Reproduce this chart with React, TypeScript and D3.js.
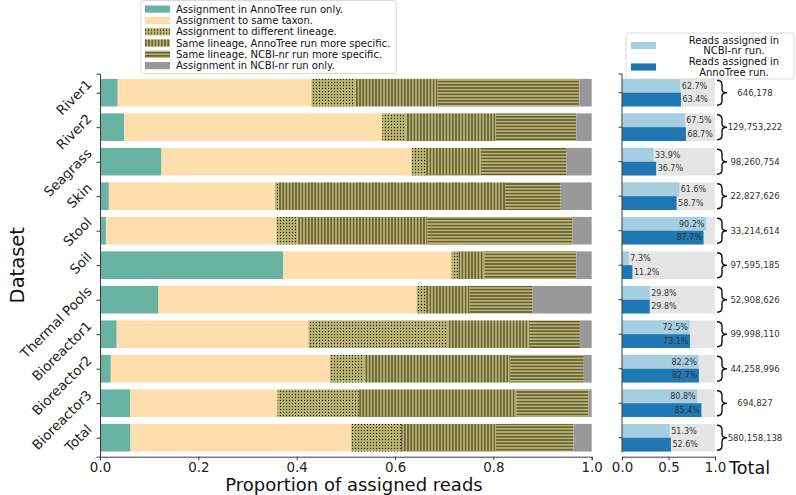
import * as d3 from "d3";
import React, { useEffect, useRef } from "react";

const datasets = ["River1", "River2", "Seagrass", "Skin", "Stool", "Soil", "Thermal Pools", "Bioreactor1", "Bioreactor2", "Bioreactor3", "Total"];

// proportion of reads in each assignment class, one array per class
const annotreeOnly = [0.036, 0.049, 0.125, 0.018, 0.012, 0.373, 0.119, 0.034, 0.022, 0.061, 0.062];
const sameTaxon = [0.394, 0.525, 0.509, 0.338, 0.347, 0.342, 0.525, 0.390, 0.446, 0.300, 0.449];
const differentLineage = [0.089, 0.048, 0.029, 0.007, 0.043, 0.014, 0.019, 0.284, 0.070, 0.166, 0.101];
const annotreeMoreSpecific = [0.167, 0.183, 0.111, 0.461, 0.264, 0.053, 0.088, 0.164, 0.296, 0.320, 0.193];
const ncbiMoreSpecific = [0.289, 0.164, 0.174, 0.113, 0.295, 0.187, 0.129, 0.104, 0.150, 0.146, 0.158];
const ncbiOnly = [0.025, 0.031, 0.052, 0.063, 0.039, 0.031, 0.120, 0.024, 0.016, 0.007, 0.037];

const classLabels = [
  "Assignment in AnnoTree run only.",
  "Assignment to same taxon.",
  "Assignment to different lineage.",
  "Same lineage, AnnoTree run more specific.",
  "Same lineage, NCBI-nr run more specific.",
  "Assignment in NCBI-nr run only.",
];

// percent of reads assigned in each run
const ncbiAssigned = [62.7, 67.5, 33.9, 61.6, 90.2, 7.3, 29.8, 72.5, 82.2, 80.8, 51.3];
const annotreeAssigned = [63.4, 68.7, 36.7, 58.7, 87.7, 11.2, 29.8, 73.1, 82.7, 85.4, 52.6];
const totalReads = [646178, 129753222, 98260754, 22827626, 33214614, 97595185, 52908626, 99998110, 44258996, 694827, 580158138];

const mainTicks = [0, 0.2, 0.4, 0.6, 0.8, 1.0];
const sideTicks = [0, 0.5, 1.0];

const App: React.FC = () => {
  const svgRef = useRef<SVGSVGElement | null>(null);

  useEffect(() => {
    if (!svgRef.current) {
      return
    }
    const svg = d3.select(svgRef.current);
    svg.selectAll("*").remove();

    const font = "DejaVu Sans, Verdana, sans-serif";
    const axisColor = "#3a3a3a";
    const hatchBase = "#bdb76b";
    const hatchInk = "#1c1c1c";

    const defs = svg.append("defs");
    const dots = defs.append("pattern").attr("id", "hatch-dots")
      .attr("patternUnits", "userSpaceOnUse").attr("width", 3).attr("height", 3);
    dots.append("rect").attr("width", 3).attr("height", 3).attr("fill", hatchBase);
    dots.append("circle").attr("cx", 1.5).attr("cy", 1.5).attr("r", 0.65).attr("fill", hatchInk);

    const vert = defs.append("pattern").attr("id", "hatch-vert")
      .attr("patternUnits", "userSpaceOnUse").attr("width", 3.2).attr("height", 3.2);
    vert.append("rect").attr("width", 3.2).attr("height", 3.2).attr("fill", hatchBase);
    vert.append("line").attr("x1", 1.6).attr("x2", 1.6).attr("y1", 0).attr("y2", 3.2)
      .attr("stroke", hatchInk).attr("stroke-width", 0.9);

    const horiz = defs.append("pattern").attr("id", "hatch-horiz")
      .attr("patternUnits", "userSpaceOnUse").attr("width", 3.2).attr("height", 3.2);
    horiz.append("rect").attr("width", 3.2).attr("height", 3.2).attr("fill", hatchBase);
    horiz.append("line").attr("x1", 0).attr("x2", 3.2).attr("y1", 1.6).attr("y2", 1.6)
      .attr("stroke", hatchInk).attr("stroke-width", 0.9);

    const fills = ["#69b3a2", "#ffdead", "url(#hatch-dots)", "url(#hatch-vert)", "url(#hatch-horiz)", "#999999"];

    const yLo = -0.55, yHi = 10.55;
    const x = d3.scaleLinear().domain([0, 1]).range([100, 591.7]);
    const y = d3.scaleLinear().domain([yLo, yHi]).range([73.7, 456.7]);
    const xr = d3.scaleLinear().domain([0, 1]).range([622, 715]);
    const barH = (y(1) - y(0)) * 0.8;

    const keys = ["a", "b", "c", "d", "e", "f"];
    const rows = datasets.map((name, i) => ({
      name,
      a: annotreeOnly[i],
      b: sameTaxon[i],
      c: differentLineage[i],
      d: annotreeMoreSpecific[i],
      e: ncbiMoreSpecific[i],
      f: ncbiOnly[i],
    }));
    const stacked = d3.stack<any>().keys(keys)(rows);

    // main stacked bars
    const main = svg.append("g");
    stacked.forEach((layer, k) => {
      main.append("g")
        .selectAll("rect")
        .data(layer)
        .enter().append("rect")
        .attr("x", d => x(d[0]))
        .attr("width", d => Math.max(0, x(d[1]) - x(d[0])))
        .attr("y", (_, i) => y(i) - barH / 2)
        .attr("height", barH)
        .attr("fill", fills[k]);
    });

    // main axes
    const xAxis = main.append("g")
      .attr("transform", `translate(0,${y(yHi)})`)
      .call(d3.axisBottom(x).tickValues(mainTicks).tickFormat(d3.format(".1f")).tickSizeOuter(0).tickSize(3.5).tickPadding(2));
    xAxis.selectAll("text").attr("font-size", 13.4).attr("font-family", font).attr("fill", "#222");

    const yAxis = main.append("g")
      .attr("transform", `translate(${x(0)},0)`)
      .call(d3.axisLeft(y).tickValues(d3.range(datasets.length)).tickFormat((i: any) => datasets[i]).tickSizeOuter(0).tickSize(3.5));
    // rotated labels, ending a little above their tick
    yAxis.selectAll("text")
      .attr("x", 0)
      .attr("dy", "0.33em")
      .attr("transform", "translate(-10.5,-11) rotate(-45)")
      .attr("font-size", 13.4)
      .attr("font-family", font)
      .attr("fill", "#222");

    [xAxis, yAxis].forEach(a => {
      a.selectAll("path,line").attr("stroke", axisColor).attr("stroke-width", 1);
    });

    svg.append("text")
      .attr("x", 354)
      .attr("y", 491)
      .attr("text-anchor", "middle")
      .attr("font-family", font)
      .attr("font-size", 18)
      .attr("fill", "#111")
      .text("Proportion of assigned reads");

    svg.append("text")
      .attr("transform", `translate(24,${(y(yLo) + y(yHi)) / 2}) rotate(-90)`)
      .attr("text-anchor", "middle")
      .attr("font-family", font)
      .attr("font-size", 19.5)
      .attr("fill", "#111")
      .text("Dataset");

    // side panel
    const side = svg.append("g");
    side.selectAll("rect.bg")
      .data(datasets)
      .enter().append("rect")
      .attr("class", "bg")
      .attr("x", xr(0))
      .attr("width", xr(1) - xr(0))
      .attr("y", (_, i) => y(i) - barH / 2)
      .attr("height", barH)
      .attr("fill", "#e5e5e5");

    side.selectAll("rect.ncbi")
      .data(ncbiAssigned)
      .enter().append("rect")
      .attr("class", "ncbi")
      .attr("x", xr(0))
      .attr("width", d => xr(d / 100) - xr(0))
      .attr("y", (_, i) => y(i) - barH / 2)
      .attr("height", barH / 2)
      .attr("fill", "#a6cee3");

    side.selectAll("rect.anno")
      .data(annotreeAssigned)
      .enter().append("rect")
      .attr("class", "anno")
      .attr("x", xr(0))
      .attr("width", d => xr(d / 100) - xr(0))
      .attr("y", (_, i) => y(i))
      .attr("height", barH / 2)
      .attr("fill", "#1f78b4");

    const pctLabel = (values: number[], offset: number) => {
      side.append("g")
        .selectAll("text")
        .data(values)
        .enter().append("text")
        .attr("x", d => d > 70 ? xr(d / 100) - 1.5 : xr(d / 100) + 1.5)
        .attr("y", (_, i) => y(i) + offset)
        .attr("dy", "0.35em")
        .attr("text-anchor", d => d > 70 ? "end" : "start")
        .attr("font-family", font)
        .attr("font-size", 8)
        .attr("fill", "#333")
        .text(d => `${d.toFixed(1)}%`);
    };
    pctLabel(ncbiAssigned, -barH / 4);
    pctLabel(annotreeAssigned, barH / 4);

    // braces with total read counts
    const bx = xr(1) + 2;
    side.append("g")
      .selectAll("path")
      .data(totalReads)
      .enter().append("path")
      .attr("d", (_, i) => {
        const c = y(i);
        const t = c - 12.5, b = c + 12.5;
        return `M${bx},${t} Q${bx + 5},${t} ${bx + 5},${t + 4.5} L${bx + 5},${c - 3.5}` +
          ` Q${bx + 5},${c} ${bx + 10},${c} Q${bx + 5},${c} ${bx + 5},${c + 3.5}` +
          ` L${bx + 5},${b - 4.5} Q${bx + 5},${b} ${bx},${b}`;
      })
      .attr("fill", "none")
      .attr("stroke", "#111")
      .attr("stroke-width", 1.4);

    side.append("g")
      .selectAll("text")
      .data(totalReads)
      .enter().append("text")
      .attr("x", 755)
      .attr("y", (_, i) => y(i))
      .attr("dy", "0.35em")
      .attr("text-anchor", "middle")
      .attr("font-family", font)
      .attr("font-size", 8.6)
      .attr("fill", "#333")
      .text(d => d3.format(",")(d));

    // side axes
    const sideX = side.append("g")
      .attr("transform", `translate(0,${y(yHi)})`)
      .call(d3.axisBottom(xr).tickValues(sideTicks).tickFormat(d3.format(".1f")).tickSizeOuter(0).tickSize(3.5).tickPadding(2));
    sideX.selectAll("text").attr("font-size", 13.4).attr("font-family", font).attr("fill", "#222");
    sideX.selectAll("path,line").attr("stroke", axisColor).attr("stroke-width", 1);

    const sideYTop = 74;
    const sideYBottom = y(10) + barH / 2 + 1;
    side.append("line")
      .attr("x1", xr(0)).attr("x2", xr(0))
      .attr("y1", sideYTop).attr("y2", sideYBottom)
      .attr("stroke", axisColor).attr("stroke-width", 1);
    side.append("g")
      .selectAll("line")
      .data(d3.range(datasets.length))
      .enter().append("line")
      .attr("x1", xr(0) - 3.5).attr("x2", xr(0))
      .attr("y1", i => y(i)).attr("y2", i => y(i))
      .attr("stroke", axisColor).attr("stroke-width", 1);
    side.append("line")
      .attr("x1", xr(0) - 3.5).attr("x2", xr(0))
      .attr("y1", sideYTop).attr("y2", sideYTop)
      .attr("stroke", axisColor).attr("stroke-width", 1);

    svg.append("text")
      .attr("x", 729)
      .attr("y", 473.5)
      .attr("font-family", font)
      .attr("font-size", 17.6)
      .attr("fill", "#111")
      .text("Total");

    // legend for the assignment classes
    const leg = svg.append("g").attr("transform", "translate(141,0.5)");
    const legBox = leg.append("rect")
      .attr("height", 73)
      .attr("rx", 2)
      .attr("fill", "white")
      .attr("stroke", "#d0d0d0")
      .attr("stroke-width", 0.8);
    const legRows = leg.selectAll("g.row")
      .data(classLabels)
      .enter().append("g")
      .attr("class", "row")
      .attr("transform", (_, i) => `translate(0,${8.6 + i * 11.3})`);
    legRows.append("rect")
      .attr("x", 4).attr("y", -3.6)
      .attr("width", 25).attr("height", 7.2)
      .attr("fill", (_, i) => fills[i]);
    const legTexts = legRows.append("text")
      .attr("x", 35)
      .attr("dy", "0.35em")
      .attr("font-family", font)
      .attr("font-size", 10)
      .attr("fill", "#111")
      .text(d => d);
    let maxW = 0;
    legTexts.each(function () {
      maxW = Math.max(maxW, (this as SVGTextElement).getComputedTextLength());
    });
    legBox.attr("width", 35 + maxW + 6);

    // legend for the side panel
    const sideLeg = svg.append("g").attr("transform", "translate(626,33)");
    sideLeg.append("rect")
      .attr("width", 168).attr("height", 46)
      .attr("rx", 2)
      .attr("fill", "white")
      .attr("stroke", "#d0d0d0")
      .attr("stroke-width", 0.8);
    const sideEntries = [
      { color: "#a6cee3", lines: ["Reads assigned in", "NCBI-nr run."] },
      { color: "#1f78b4", lines: ["Reads assigned in", "AnnoTree run."] },
    ];
    sideEntries.forEach((e, k) => {
      const cy = 12.5 + k * 21.5;
      sideLeg.append("rect")
        .attr("x", 5).attr("y", cy - 3.6)
        .attr("width", 25).attr("height", 7.2)
        .attr("fill", e.color);
      e.lines.forEach((ln, j) => {
        sideLeg.append("text")
          .attr("x", 108)
          .attr("y", cy + (j - 0.5) * 10.6)
          .attr("dy", "0.35em")
          .attr("text-anchor", "middle")
          .attr("font-family", font)
          .attr("font-size", 10)
          .attr("fill", "#111")
          .text(ln);
      });
    });
  }, []);

  return (
    <svg
      ref={svgRef}
      width={796}
      height={495}
      style={{ position: "absolute", left: 0, top: 0, background: "white" }}
    />
  );
}

export default App;
